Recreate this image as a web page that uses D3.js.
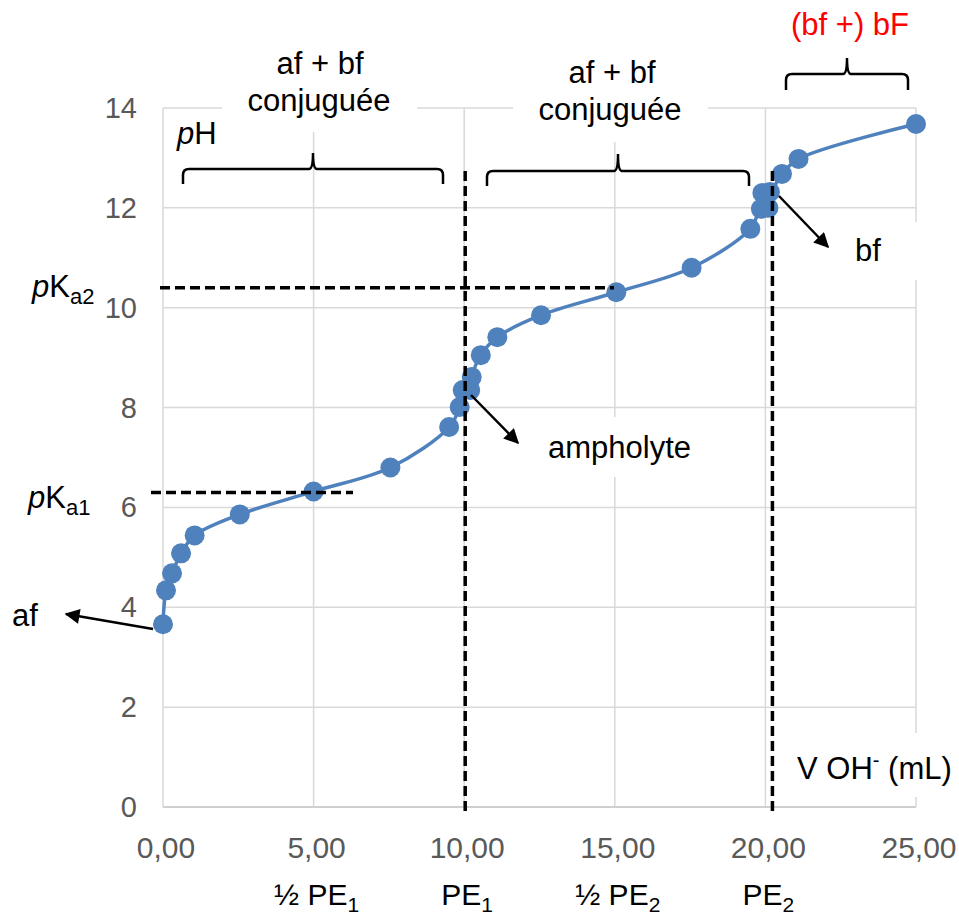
<!DOCTYPE html>
<html>
<head>
<meta charset="utf-8">
<title>titration</title>
<script src="https://d3js.org/d3.v7.min.js"></script>
<style>
body { margin: 0; background: #fff; }
svg text { font-family: "Liberation Sans", Arial, sans-serif; }
</style>
</head>
<body>
<script>
// titration data (V OH- in mL, pH)
const volume = [0, 0.1, 0.3, 0.6, 1.05, 2.55, 5, 7.55, 9.5, 9.85, 9.95, 10.2, 10.25, 10.55, 11.1,
  12.55, 15.05, 17.55, 19.5, 19.85, 20.1, 19.9, 20.15, 20.55, 21.1, 25];
const pH = [3.66, 4.34, 4.68, 5.08, 5.44, 5.86, 6.32, 6.8, 7.61, 8.01, 8.35, 8.35, 8.61, 9.05, 9.41,
  9.85, 10.31, 10.8, 11.58, 11.98, 12.0, 12.3, 12.32, 12.68, 12.98, 13.68];
const xTicks = [0, 5, 10, 15, 20, 25];
const yTicks = [0, 2, 4, 6, 8, 10, 12, 14];
const pKa = [6.3, 10.4];
const PE = [10, 20.2];
const bottomLabels = [["½ PE", "1", 5], ["PE", "1", 10], ["½ PE", "2", 15], ["PE", "2", 20]];

const width = 959, height = 920;
const x = d3.scaleLinear().domain([0, 25]).range([163, 916]);
const y = d3.scaleLinear().domain([0, 14]).range([807, 108]);

const svg = d3.select("body").append("svg")
    .attr("width", width).attr("height", height);

const defs = svg.append("defs");
defs.append("marker")
    .attr("id", "arrow")
    .attr("viewBox", "0 0 10 10")
    .attr("refX", 9).attr("refY", 5)
    .attr("markerWidth", 7).attr("markerHeight", 6)
    .attr("markerUnits", "strokeWidth")
    .attr("orient", "auto")
  .append("path")
    .attr("d", "M0,0L10,5L0,10z")
    .attr("fill", "#000");

// grid
svg.append("g").selectAll("line").data(yTicks).join("line")
    .attr("x1", x(0)).attr("x2", x(25))
    .attr("y1", d => y(d)).attr("y2", d => y(d))
    .attr("stroke", d => d === 0 ? "#bfbfbf" : "#d9d9d9").attr("stroke-width", 1.5);
svg.append("g").selectAll("line").data(xTicks).join("line")
    .attr("x1", d => x(d)).attr("x2", d => x(d))
    .attr("y1", y(0)).attr("y2", y(14))
    .attr("stroke", "#d9d9d9").attr("stroke-width", 1.5);

// white label boxes covering grid
const boxes = [[222, 30, 195, 102], [513, 50, 195, 92], [838, 222, 121, 58], [540, 417, 160, 60], [790, 733, 169, 64]];
svg.append("g").selectAll("rect").data(boxes).join("rect")
    .attr("x", d => d[0]).attr("y", d => d[1])
    .attr("width", d => d[2]).attr("height", d => d[3])
    .attr("fill", "#fff");

// tick labels
svg.append("g").selectAll("text").data(yTicks).join("text")
    .attr("x", 137).attr("y", d => y(d) + 10)
    .attr("text-anchor", "end")
    .attr("font-size", 29).attr("fill", "#595959")
    .text(d => d);
svg.append("g").selectAll("text").data(xTicks).join("text")
    .attr("x", d => x(d) + 3).attr("y", 858)
    .attr("text-anchor", "middle")
    .attr("font-size", 30).attr("fill", "#595959")
    .text(d => d3.format(".2f")(d).replace(".", ","));

// curve
const pts = volume.map((v, i) => [v, pH[i]]);
svg.append("path")
    .datum(pts)
    .attr("fill", "none")
    .attr("stroke", "#4f81bd").attr("stroke-width", 3.5)
    .attr("d", d3.line().x(d => x(d[0])).y(d => y(d[1])).curve(d3.curveCatmullRom.alpha(0.5)));
svg.append("g").selectAll("circle").data(pts).join("circle")
    .attr("cx", d => x(d[0])).attr("cy", d => y(d[1]))
    .attr("r", 10).attr("fill", "#4f81bd");

// dashed reference lines
const dash = "10,5";
svg.append("line").attr("x1", 151).attr("x2", 353).attr("y1", y(pKa[0])).attr("y2", y(pKa[0]))
    .attr("stroke", "#000").attr("stroke-width", 3.5).attr("stroke-dasharray", dash);
svg.append("line").attr("x1", 160).attr("x2", 614).attr("y1", y(pKa[1])).attr("y2", y(pKa[1]))
    .attr("stroke", "#000").attr("stroke-width", 3.5).attr("stroke-dasharray", dash);
svg.append("g").selectAll("line").data(PE).join("line")
    .attr("x1", d => x(d) + 1).attr("x2", d => x(d) + 1)
    .attr("y1", 171).attr("y2", 815)
    .attr("stroke", "#000").attr("stroke-width", 3.5).attr("stroke-dasharray", dash);

// braces
function brace(x0, x1, yBase, yLine, yPeak) {
  const xm = (x0 + x1) / 2, r = 6;
  return `M${x0},${yBase}L${x0},${yLine + r}Q${x0},${yLine} ${x0 + r},${yLine}` +
    `L${xm - 4},${yLine}Q${xm},${yLine} ${xm},${yPeak}Q${xm},${yLine} ${xm + 4},${yLine}` +
    `L${x1 - r},${yLine}Q${x1},${yLine} ${x1},${yLine + r}L${x1},${yBase}`;
}
const braceG = svg.append("g").attr("fill", "none").attr("stroke", "#000").attr("stroke-width", 2.5);
braceG.append("path").attr("d", brace(183, 443, 184, 169, 153));
braceG.append("path").attr("d", brace(487, 749, 186, 171, 154));
braceG.append("path").attr("d", brace(786, 908, 90, 74, 58));

// arrows
const arrows = [[153, 629, 66, 614], [471, 395, 518, 443], [779, 196, 828, 247]];
svg.append("g").selectAll("line").data(arrows).join("line")
    .attr("x1", d => d[0]).attr("y1", d => d[1])
    .attr("x2", d => d[2]).attr("y2", d => d[3])
    .attr("stroke", "#000").attr("stroke-width", 2.5)
    .attr("marker-end", "url(#arrow)");

// annotation text
const fs = 31;
function label(tx, ty, str, anchor, color) {
  return svg.append("text").attr("x", tx).attr("y", ty)
      .attr("font-size", fs).attr("text-anchor", anchor || "start")
      .attr("fill", color || "#000").text(str);
}
label(320, 74, "af + bf", "middle");
label(319, 111, "conjuguée", "middle");
label(612, 83, "af + bf", "middle");
label(610, 120, "conjuguée", "middle");
label(850, 35, "(bf +) bF", "middle", "#ff0000");
label(548, 458, "ampholyte");
label(855, 261, "bf");
label(12, 626, "af");

const phT = svg.append("text").attr("x", 177).attr("y", 144).attr("font-size", fs);
phT.append("tspan").attr("font-style", "italic").text("p");
phT.append("tspan").text("H");

function pk(tx, ty, sub) {
  const t = svg.append("text").attr("x", tx).attr("y", ty).attr("font-size", fs);
  t.append("tspan").attr("font-style", "italic").text("p");
  t.append("tspan").text("K");
  t.append("tspan").attr("font-size", 22).attr("dy", 7).text(sub);
}
pk(32, 297, "a2");
pk(28, 508, "a1");

const vT = svg.append("text").attr("x", 797).attr("y", 779).attr("font-size", fs);
vT.append("tspan").text("V OH");
vT.append("tspan").attr("font-size", 20).attr("dy", -12).text("-");
vT.append("tspan").attr("dy", 12).text(" (mL)");

svg.append("g").selectAll("text").data(bottomLabels).join("text")
    .attr("x", d => x(d[2]) + 3).attr("y", 905)
    .attr("text-anchor", "middle").attr("font-size", 30)
    .each(function(d) {
      const t = d3.select(this);
      t.append("tspan").text(d[0]);
      t.append("tspan").attr("font-size", 21).attr("dy", 7).text(d[1]);
    });
</script>
</body>
</html>
